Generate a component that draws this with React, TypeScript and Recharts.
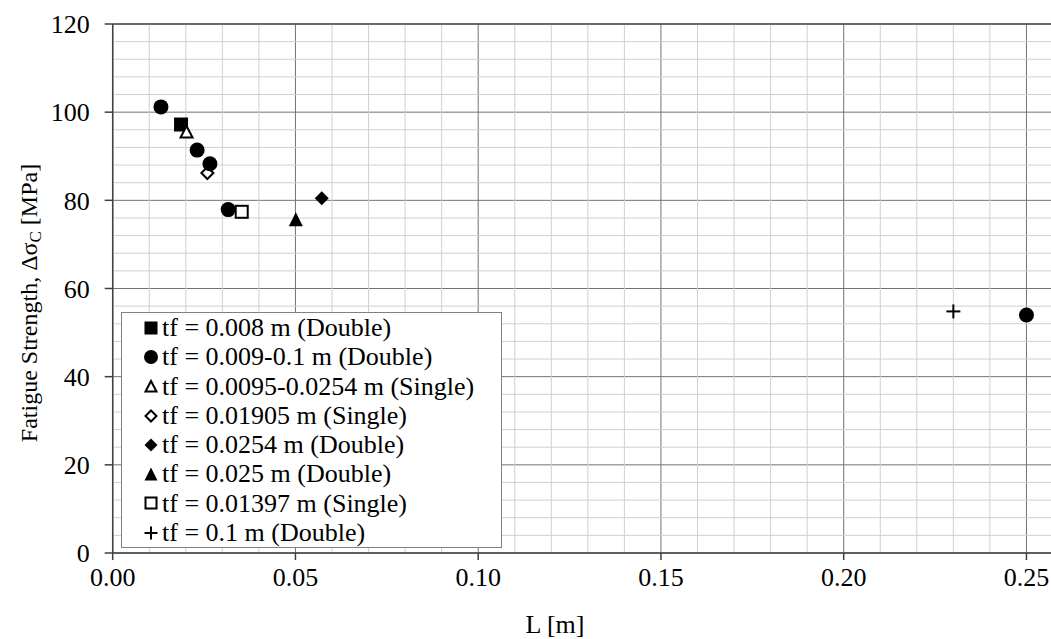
import React from 'react';
import {
  ScatterChart,
  Scatter,
  XAxis,
  YAxis,
  CartesianGrid,
  ReferenceLine,
  Label,
} from 'recharts';

const FONT = "'Liberation Serif', 'DejaVu Serif', serif";

// Series data: L [m] vs fatigue strength [MPa]
const seriesDouble008 = [{ L: 0.0187, S: 97.2 }];
const seriesDouble009 = [
  { L: 0.0132, S: 101.2 },
  { L: 0.0231, S: 91.4 },
  { L: 0.0266, S: 88.3 },
  { L: 0.0316, S: 77.9 },
  { L: 0.25, S: 54.0 },
];
const seriesSingle0095 = [{ L: 0.0202, S: 95.6 }];
const seriesSingle01905 = [{ L: 0.0259, S: 86.2 }];
const seriesDouble0254 = [{ L: 0.0572, S: 80.5 }];
const seriesDouble025 = [{ L: 0.0501, S: 75.7 }];
const seriesSingle01397 = [{ L: 0.0353, S: 77.4 }];
const seriesDouble01 = [{ L: 0.23, S: 54.8 }];

const xTicks = [0, 0.05, 0.1, 0.15, 0.2, 0.25];
const yTicks = [0, 20, 40, 60, 80, 100, 120];
const xMinor = [
  0.01, 0.02, 0.03, 0.04, 0.06, 0.07, 0.08, 0.09, 0.11, 0.12, 0.13, 0.14,
  0.16, 0.17, 0.18, 0.19, 0.21, 0.22, 0.23, 0.24, 0.26,
];
const yMinor = [
  4, 8, 12, 16, 24, 28, 32, 36, 44, 48, 52, 56, 64, 68, 72, 76, 84, 88, 92,
  96, 104, 108, 112, 116,
];

type MarkerKind =
  | 'squareFilled'
  | 'circleFilled'
  | 'triangleOpen'
  | 'diamondOpen'
  | 'diamondFilled'
  | 'triangleFilled'
  | 'squareOpen'
  | 'plus';

const legendItems: { label: string; kind: MarkerKind }[] = [
  { label: 'tf = 0.008 m (Double)', kind: 'squareFilled' },
  { label: 'tf = 0.009-0.1 m (Double)', kind: 'circleFilled' },
  { label: 'tf = 0.0095-0.0254 m (Single)', kind: 'triangleOpen' },
  { label: 'tf = 0.01905 m (Single)', kind: 'diamondOpen' },
  { label: 'tf = 0.0254 m (Double)', kind: 'diamondFilled' },
  { label: 'tf = 0.025 m (Double)', kind: 'triangleFilled' },
  { label: 'tf = 0.01397 m (Single)', kind: 'squareOpen' },
  { label: 'tf = 0.1 m (Double)', kind: 'plus' },
];

function drawMarker(kind: MarkerKind, cx: number, cy: number, s: number) {
  const h = s / 2;
  switch (kind) {
    case 'squareFilled':
      return <rect x={cx - h} y={cy - h} width={s} height={s} fill="#000" />;
    case 'squareOpen':
      return (
        <rect
          x={cx - h + 1}
          y={cy - h + 1}
          width={s - 2}
          height={s - 2}
          fill="#fff"
          stroke="#000"
          strokeWidth={2}
        />
      );
    case 'circleFilled':
      return <circle cx={cx} cy={cy} r={h + 0.5} fill="#000" />;
    case 'triangleFilled':
      return (
        <polygon
          points={`${cx},${cy - h} ${cx + h},${cy + h} ${cx - h},${cy + h}`}
          fill="#000"
        />
      );
    case 'triangleOpen':
      return (
        <polygon
          points={`${cx},${cy - h + 1.5} ${cx + h - 1},${cy + h - 1} ${cx - h + 1},${cy + h - 1}`}
          fill="#fff"
          stroke="#000"
          strokeWidth={2}
        />
      );
    case 'diamondFilled':
      return (
        <polygon
          points={`${cx},${cy - h} ${cx + h},${cy} ${cx},${cy + h} ${cx - h},${cy}`}
          fill="#000"
        />
      );
    case 'diamondOpen':
      return (
        <polygon
          points={`${cx},${cy - h + 1} ${cx + h - 1},${cy} ${cx},${cy + h - 1} ${cx - h + 1},${cy}`}
          fill="#fff"
          stroke="#000"
          strokeWidth={2}
        />
      );
    case 'plus':
      return (
        <g stroke="#000" strokeWidth={2}>
          <line x1={cx - h} y1={cy} x2={cx + h} y2={cy} />
          <line x1={cx} y1={cy - h} x2={cx} y2={cy + h} />
        </g>
      );
  }
}

const shapeFor = (kind: MarkerKind) => (props: any) => {
  const { cx, cy } = props;
  if (cx == null || cy == null) return <g />;
  return drawMarker(kind, cx, cy, 14);
};

const LegendBox = () => (
  <div
    style={{
      position: 'absolute',
      left: 113,
      top: 304,
      width: 381,
      height: 236,
      boxSizing: 'border-box',
      border: '1px solid #808080',
      background: '#fff',
      fontFamily: FONT,
      fontSize: 26,
      color: '#000',
    }}
  >
    {legendItems.map((it) => (
      <div
        key={it.label}
        style={{
          height: 29.3,
          display: 'flex',
          alignItems: 'center',
          whiteSpace: 'nowrap',
          lineHeight: '29.3px',
        }}
      >
        <svg width={40} height={20} style={{ flex: 'none' }}>
          {drawMarker(it.kind, 29, 10, 13)}
        </svg>
        <span>{it.label}</span>
      </div>
    ))}
  </div>
);

const YTitle = () => {
  const cx = 21;
  const cy = 295;
  return (
    <text
      x={cx}
      y={cy}
      transform={`rotate(-90, ${cx}, ${cy})`}
      textAnchor="middle"
      dominantBaseline="central"
      fontFamily={FONT}
      fontSize={24}
      fill="#000"
    >
      Fatigue Strength, Δσ
      <tspan fontSize={17} dy={6}>
        C
      </tspan>
      <tspan dy={-6}> [MPa]</tspan>
    </text>
  );
};

const XTitle = () => (
  <text
    x={547}
    y={616}
    textAnchor="middle"
    dominantBaseline="central"
    fontFamily={FONT}
    fontSize={26}
    fill="#000"
  >
    L [m]
  </text>
);

export default function App() {
  return (
    <div
      style={{
        position: 'fixed',
        left: 0,
        top: 0,
        width: 1051,
        height: 639,
        overflow: 'hidden',
        background: '#fff',
      }}
    >
      <div style={{ position: 'absolute', left: 8, top: 8, width: 1065, height: 631 }}>
        <ScatterChart
          width={1065}
          height={631}
          margin={{ top: 16, right: 10, left: 0, bottom: 0 }}
          style={{ fontFamily: FONT }}
        >
          <CartesianGrid stroke="#727272" strokeWidth={1} />
          {xMinor.map((v) => (
            <ReferenceLine key={'xm' + v} x={v} stroke="#d0d0d0" strokeWidth={1} />
          ))}
          {yMinor.map((v) => (
            <ReferenceLine key={'ym' + v} y={v} stroke="#d0d0d0" strokeWidth={1} />
          ))}
          <ReferenceLine y={120} stroke="#505050" strokeWidth={1.5} />
          <XAxis
            type="number"
            dataKey="L"
            domain={[0, 0.26]}
            ticks={xTicks}
            tickFormatter={(v: number) => v.toFixed(2)}
            allowDataOverflow
            height={86}
            tickSize={7}
            tickMargin={8}
            stroke="#404040"
            strokeWidth={1.5}
            tick={{ fill: '#000', fontFamily: FONT, fontSize: 26 }}
          >
            <Label content={XTitle} />
          </XAxis>
          <YAxis
            type="number"
            dataKey="S"
            domain={[0, 120]}
            ticks={yTicks}
            width={104.7}
            tickSize={8}
            tickMargin={15}
            stroke="#404040"
            strokeWidth={1.5}
            tick={{ fill: '#000', fontFamily: FONT, fontSize: 26 }}
          >
            <Label content={YTitle} />
          </YAxis>
          <Scatter name="sq008" data={seriesDouble008} shape={shapeFor('squareFilled')} isAnimationActive={false} />
          <Scatter name="tri0095" data={seriesSingle0095} shape={shapeFor('triangleOpen')} isAnimationActive={false} />
          <Scatter name="dia01905" data={seriesSingle01905} shape={shapeFor('diamondOpen')} isAnimationActive={false} />
          <Scatter name="circ009" data={seriesDouble009} shape={shapeFor('circleFilled')} isAnimationActive={false} />
          <Scatter name="sq01397" data={seriesSingle01397} shape={shapeFor('squareOpen')} isAnimationActive={false} />
          <Scatter name="dia0254" data={seriesDouble0254} shape={shapeFor('diamondFilled')} isAnimationActive={false} />
          <Scatter name="tri025" data={seriesDouble025} shape={shapeFor('triangleFilled')} isAnimationActive={false} />
          <Scatter name="plus01" data={seriesDouble01} shape={shapeFor('plus')} isAnimationActive={false} />
        </ScatterChart>
        <LegendBox />
      </div>
    </div>
  );
}
